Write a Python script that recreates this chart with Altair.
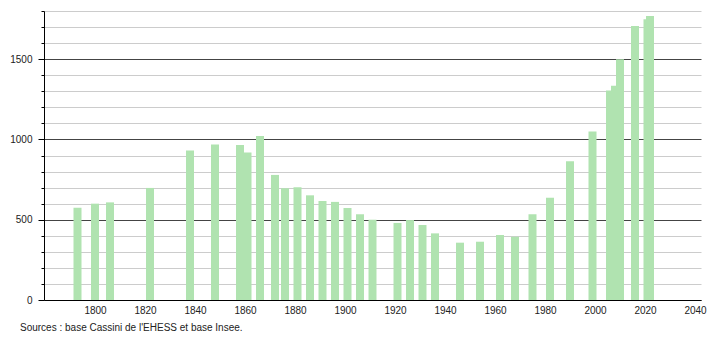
import altair as alt
import pandas as pd

years = [1793, 1800, 1806, 1822, 1838, 1848, 1858, 1861, 1866, 1872, 1876, 1881,
         1886, 1891, 1896, 1901, 1906, 1911, 1921, 1926, 1931, 1936, 1946, 1954,
         1962, 1968, 1975, 1982, 1990, 1999, 2006, 2008, 2010, 2016, 2021, 2022]
population = [575, 600, 608, 698, 931, 969, 966, 918, 1022, 779, 696, 702,
              652, 617, 611, 573, 534, 500, 480, 498, 467, 415, 357, 363,
              405, 394, 534, 637, 864, 1049, 1305, 1335, 1500, 1707, 1749, 1769]
x_ticks = list(range(1800, 2041, 20))
y_ticks = list(range(0, 1801, 100))
source = "Sources : base Cassini de l'EHESS et base Insee."

df = pd.DataFrame({"year": years, "pop": population})
FONT = "Liberation Sans"

chart = alt.Chart(df).mark_bar(size=8, color="#b0e3b0").encode(
    x=alt.X("year:Q",
            scale=alt.Scale(domain=[1779.6, 2042.4], nice=False, zero=False, padding=0),
            axis=alt.Axis(values=x_ticks, format="d", title=None, grid=False,
                          ticks=False, domainColor="#000", domainWidth=1,
                          labelFont=FONT, labelFontSize=10, labelColor="#222",
                          labelPadding=5)),
    y=alt.Y("pop:Q",
            scale=alt.Scale(domain=[0, 1800], nice=False, padding=0),
            axis=alt.Axis(values=y_ticks, format="d", title=None,
                          labelExpr="datum.value % 500 === 0 ? datum.label : ''",
                          gridColor=alt.condition("datum.value % 500 === 0",
                                                  alt.value("#444444"), alt.value("#cccccc")),
                          tickSize=alt.condition("datum.value % 500 === 0",
                                                 alt.value(6), alt.value(3)),
                          tickColor="#000", domainColor="#000",
                          labelFont=FONT, labelFontSize=10, labelColor="#222",
                          labelPadding=6)),
).properties(
    width=657, height=289,
    title=alt.TitleParams(source, orient="bottom", anchor="start", frame="group",
                          dx=-24, offset=8, fontSize=10, fontWeight="normal",
                          font=FONT, color="#222"),
    autosize=alt.AutoSizeParams(type="none"),
    padding={"left": 44, "top": 11, "right": 9, "bottom": 40},
).configure_view(stroke=None)

chart.save("out.html", embed_options={"renderer": "svg", "actions": False})
